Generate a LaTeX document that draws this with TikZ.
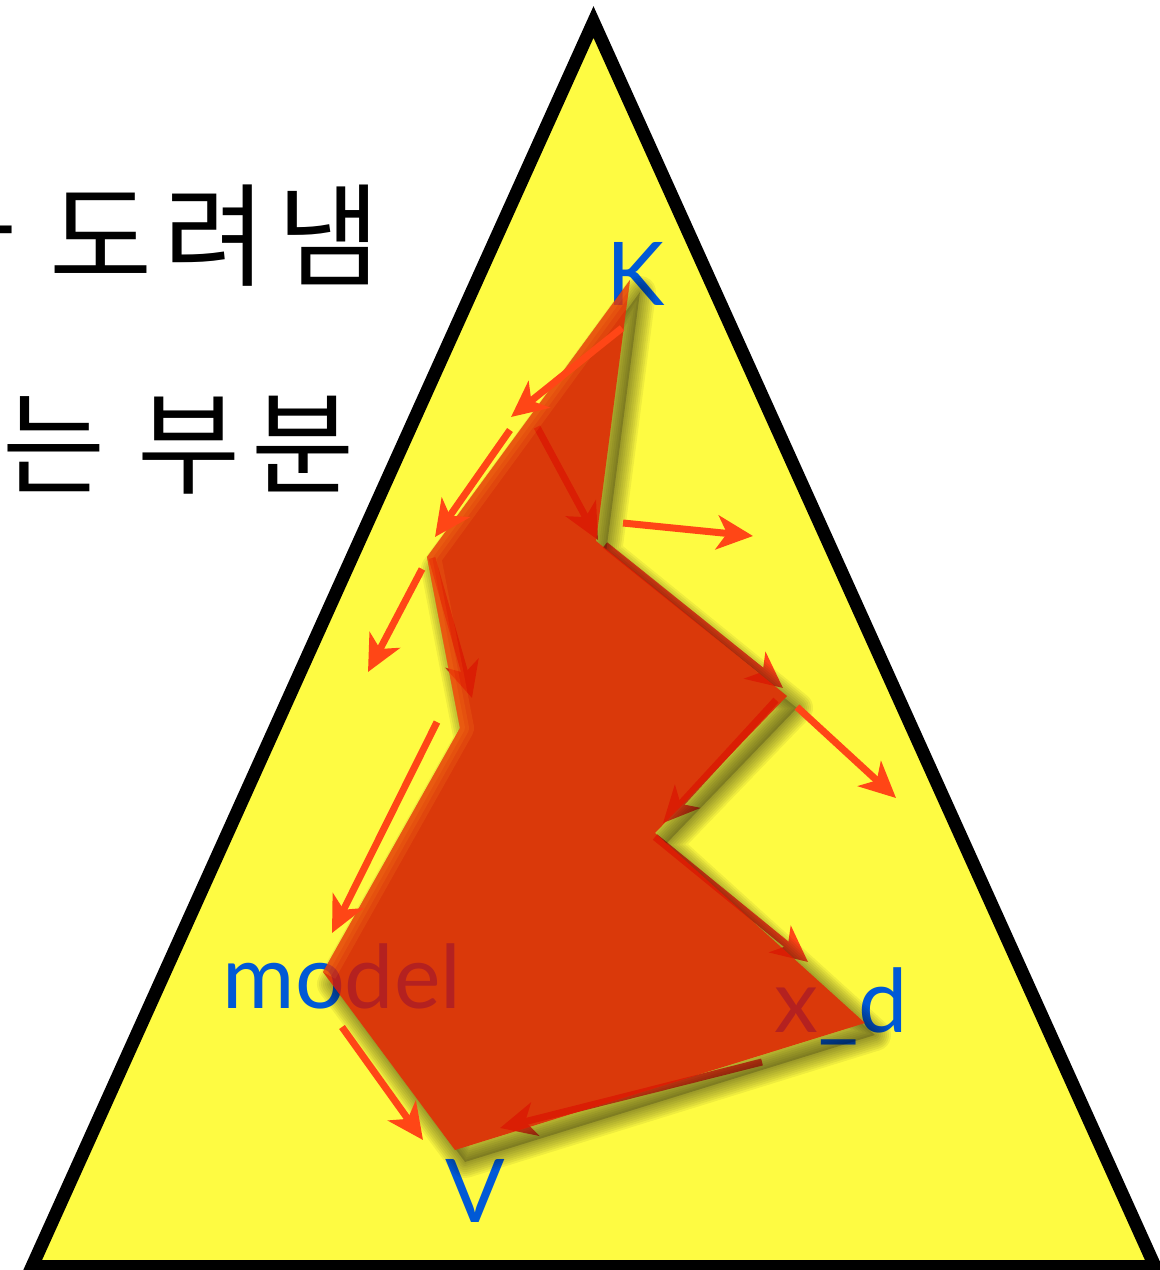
\documentclass[tikz,border=0pt]{standalone}
\usepackage{fontspec}
\setmainfont{Lato}
\newfontfamily\kofont{Noto Sans CJK KR}
\usepackage{tikz}
\usetikzlibrary{arrows.meta}
\definecolor{lemon}{HTML}{FEFB42}
\definecolor{ink}{HTML}{000000}
\definecolor{label}{HTML}{0059D6}
\definecolor{flame}{HTML}{FF4616}
\definecolor{cut}{HTML}{D41801}
\definecolor{glow}{HTML}{FF7014}
\tikzset{
  cutout/.style={insert path={(630,280) -- (427,557) -- (460,728) -- (323,972) -- (455,1150) -- (865,1023) -- (655,833) -- (787,696) -- (596,541) -- cycle}},
  flow/.style={flame, line width=7pt, ->},
  tag/.style={font=\fontsize{88}{100}\selectfont, text=label, anchor=base, inner sep=0pt},
  hangul/.style={font=\kofont\fontsize{112}{130}\selectfont, anchor=base east, inner sep=0pt},
}

\begin{document}
\begin{tikzpicture}[x=1pt, y=-1pt, >={Stealth[length=36pt, width=34pt, inset=10pt]}]
  \useasboundingbox (0,0) rectangle (1160,1270);
  \clip (0,0) rectangle (1160,1270);
  \coordinate (apex) at (593.5,22);
  \coordinate (left) at (32,1266.5);
  \coordinate (right) at (1155,1266.5);

  \filldraw[fill=lemon, draw=ink, line width=13pt] (apex) -- (left) -- (right) -- cycle;

  \node[hangul] (top) at (381,277) {가\kern9pt\ 도\kern11pt 려\kern11pt 냄};
  \node[hangul] (part) at (355,485) {는\kern7pt\ 부\kern11pt 분};

  \node[tag] (K) at (636,305) {K};
  \node[tag] (model) at (342,1008) {model};
  \node[tag] (V) at (475,1222) {V};
  \node[tag] (xd) at (841,1032) {x\_d};

  \draw[flow] (537,427) -- (598,540);
  \draw[flow] (605,545) -- (783,688);
  \draw[flow] (432,558) -- (472,698);
  \draw[flow] (776,700) -- (663,823);
  \draw[flow] (655,837) -- (808,962);
  \draw[flow] (762,1062) -- (500,1128);

  \begin{scope}[transparency group, opacity=.85]
    \begin{scope}[shift={(10,12)}]
      \foreach \w in {32,28,24,20,16,12,8,4}
        \draw[black, opacity=.07, line width=\w pt, line join=round, cutout];
      \fill[black, opacity=.25, cutout];
    \end{scope}
    \fill[cut, cutout];
    \begin{scope}
      \clip[cutout];
      \foreach \w in {28,18,10}
        \draw[glow, opacity=.18, line width=\w pt, line join=round] (630,280) -- (427,557) -- (460,728) -- (323,972);
    \end{scope}
  \end{scope}

  \draw[flow] (622,328) -- (511,417);
  \draw[flow] (510,430) -- (435,537);
  \draw[flow] (623,523) -- (753,536);
  \draw[flow] (422,569) -- (368,672);
  \draw[flow] (437,722) -- (332,933);
  \draw[flow] (797,707) -- (896,798);
  \draw[flow] (342,1027) -- (423,1140);
\end{tikzpicture}
\end{document}
